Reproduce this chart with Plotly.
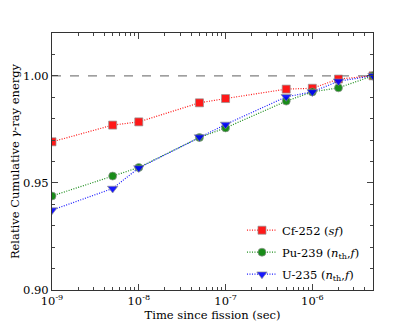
import plotly.graph_objects as go

# time since fission (sec)
times = [1e-9, 5e-9, 1e-8, 5e-8, 1e-7, 5e-7, 1e-6, 2e-6, 5e-6]

cf252 = [0.9692, 0.9770, 0.9785, 0.9874, 0.9894, 0.9938, 0.9942, 0.9985, 1.0]
pu239 = [0.9439, 0.9532, 0.9572, 0.9712, 0.9757, 0.9882, 0.9925, 0.9944, 1.0]
u235 = [0.9373, 0.9474, 0.9570, 0.9714, 0.9773, 0.9902, 0.9925, 0.9975, 1.0]

x_tickvals = [1e-9, 1e-8, 1e-7, 1e-6]
x_ticktext = ["10<sup>-9</sup>", "10<sup>-8</sup>", "10<sup>-7</sup>", "10<sup>-6</sup>"]
y_tickvals = [0.90, 0.95, 1.00]
y_ticktext = ["0.90", "0.95", "1.00"]

font = "DejaVu Serif"

fig = go.Figure()

# reference line at 1.0
fig.add_trace(go.Scatter(
    x=[times[0], times[-1]], y=[1.0, 1.0], mode="lines",
    line=dict(color="gray", dash="dash", width=1.2),
    showlegend=False, hoverinfo="skip",
))

series = [
    ("Cf-252 (<i>sf</i>)", cf252, "red", "square", 8),
    ("Pu-239 (<i>n</i><sub>th</sub>,<i>f</i>)", pu239, "green", "circle", 8),
    ("U-235 (<i>n</i><sub>th</sub>,<i>f</i>)", u235, "blue", "triangle-down", 9),
]
for i, (name, vals, col, sym, sz) in enumerate(series):
    fig.add_trace(go.Scatter(
        x=times, y=vals, mode="lines+markers", name=name,
        legendgroup="g%d" % i,
        line=dict(color=col, dash="1px,1.5px", width=1.2),
        opacity=0.9,
        marker=dict(symbol=sym, size=sz, color=col,
                    line=dict(color="#888888", width=0.7)),
    ))

# page body has an 8px margin, so the figure is shrunk by that much
fig.update_layout(
    width=407,
    height=324,
    margin=dict(l=44, r=42, t=25, b=42),
    paper_bgcolor="white",
    plot_bgcolor="white",
    font=dict(family=font, size=11.5, color="black"),
    legend=dict(
        x=0.975, y=0.005, xanchor="right", yanchor="bottom",
        bgcolor="rgba(0,0,0,0)", font=dict(size=11.5, family=font),
        tracegroupgap=3, itemwidth=30,
    ),
    xaxis=dict(
        type="log",
        range=[-9, 0.69897 - 6],
        tickvals=x_tickvals,
        ticktext=x_ticktext,
        ticks="inside",
        ticklen=6,
        showgrid=False,
        zeroline=False,
        showline=True,
        linecolor="#333333",
        linewidth=1,
        mirror="allticks",
        automargin=False,
        minor=dict(ticks="inside", ticklen=3, dtick="D1", showgrid=False),
        title=dict(text="Time since fission (sec)", standoff=4,
                   font=dict(size=11.5)),
        tickfont=dict(size=11.5),
    ),
    yaxis=dict(
        range=[0.90, 1.02],
        tickvals=y_tickvals,
        ticktext=y_ticktext,
        ticks="inside",
        ticklen=6,
        showgrid=False,
        zeroline=False,
        showline=True,
        linecolor="#333333",
        linewidth=1,
        mirror="allticks",
        automargin=False,
        minor=dict(ticks="inside", ticklen=3, dtick=0.01, showgrid=False),
        title=dict(text="Relative Cumulative <i>γ</i>-ray energy", standoff=2,
                   font=dict(size=11.5)),
        tickfont=dict(size=11.5),
    ),
)

fig.write_html("out.html")
